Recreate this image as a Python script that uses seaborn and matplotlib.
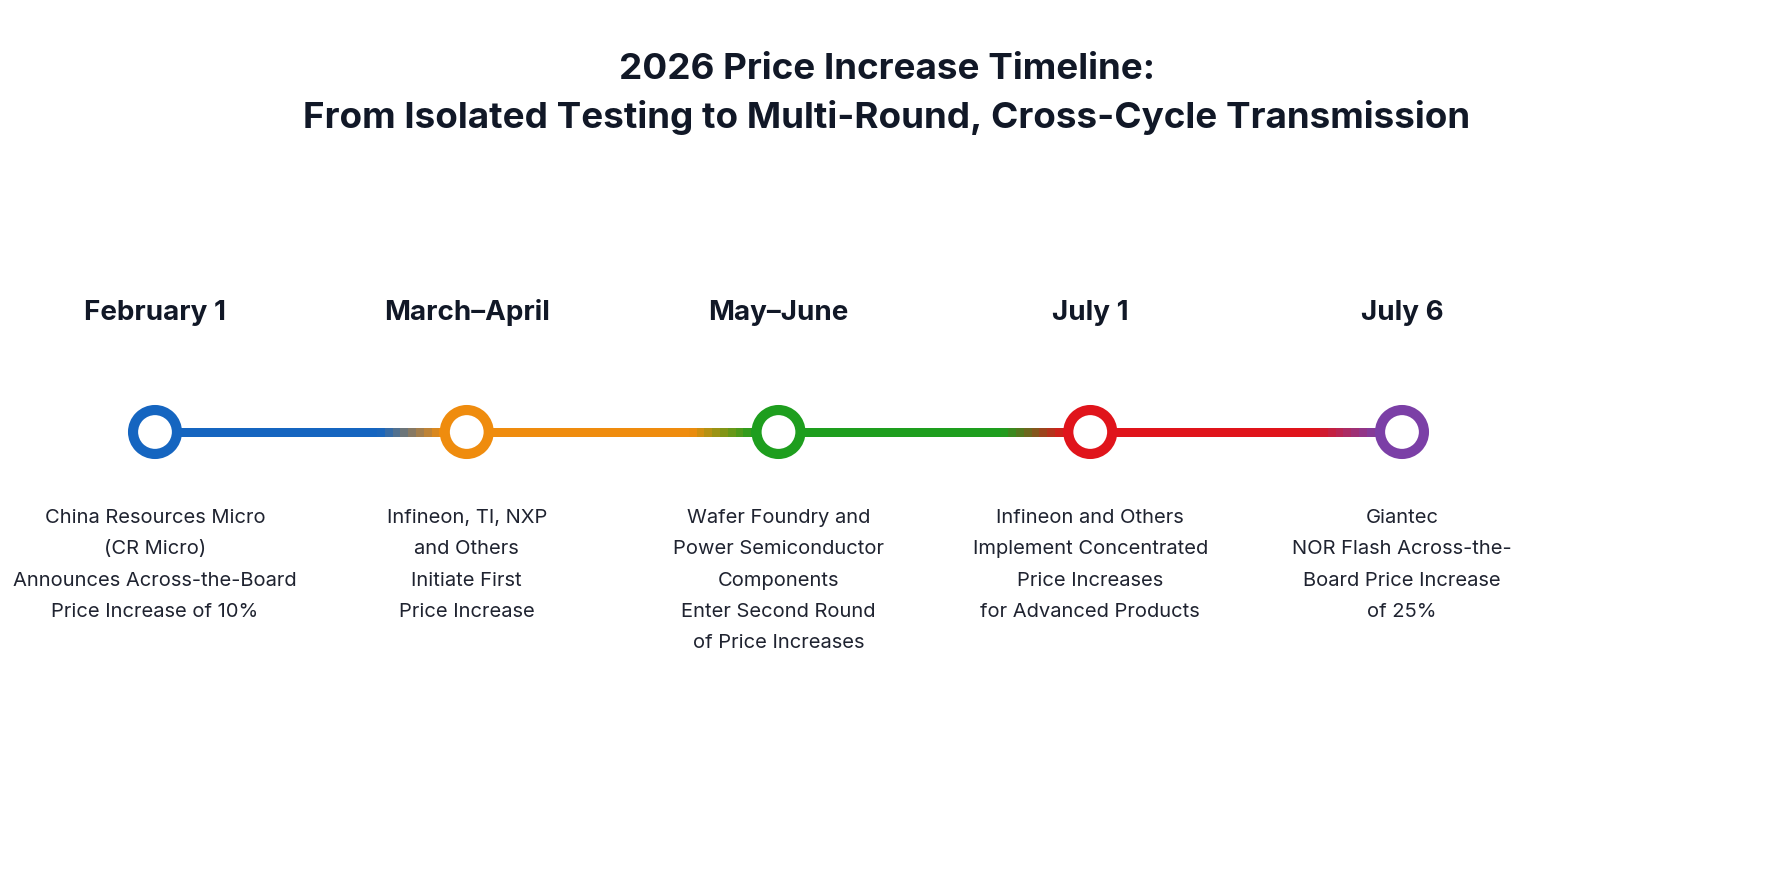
import numpy as np
import pandas as pd
import matplotlib
matplotlib.use("Agg")
import matplotlib.pyplot as plt
import seaborn as sns
from matplotlib.collections import LineCollection
from matplotlib.colors import to_rgb

dates = ["February 1", "March–April", "May–June", "July 1", "July 6"]
descriptions = [
    "China Resources Micro\n(CR Micro)\nAnnounces Across-the-Board\nPrice Increase of 10%",
    "Infineon, TI, NXP\nand Others\nInitiate First\nPrice Increase",
    "Wafer Foundry and\nPower Semiconductor\nComponents\nEnter Second Round\nof Price Increases",
    "Infineon and Others\nImplement Concentrated\nPrice Increases\nfor Advanced Products",
    "Giantec\nNOR Flash Across-the-\nBoard Price Increase\nof 25%",
]
colors = ["#1565C0", "#EF8C0E", "#1E9E1E", "#E0141B", "#7B3FA6"]
title = "2026 Price Increase Timeline:\nFrom Isolated Testing to Multi-Round, Cross-Cycle Transmission"

sns.set_theme(style="white")
plt.rcParams["font.family"] = ["Inter", "DejaVu Sans"]

df = pd.DataFrame({"pos": np.arange(len(dates)), "y": 0.0, "date": dates})

fig = plt.figure(figsize=(17.74, 8.87), dpi=100)
ax = fig.add_axes([0, 0, 1, 1])
unit = 311.75
ax.set_xlim(-155 / unit, (1774 - 155) / unit)
ax.set_ylim(887 - 433, -433)
ax.axis("off")

# gradient line
segs, cols = [], []
n = 40
for i in range(len(dates) - 1):
    xs = np.linspace(i, i + 1, n + 1)
    c0, c1 = np.array(to_rgb(colors[i])), np.array(to_rgb(colors[i + 1]))
    for k in range(n):
        t = (xs[k] - i)
        w = np.clip((t - 0.72) / 0.2, 0, 1)
        segs.append([(xs[k], 0), (xs[k + 1], 0)])
        cols.append(c0 * (1 - w) + c1 * w)
ax.add_collection(LineCollection(segs, colors=cols, linewidths=5.2, zorder=1,
                                 capstyle="projecting", antialiased=False))

sns.scatterplot(data=df, x="pos", y="y", hue="date", palette=colors, legend=False,
                s=1000, linewidth=0, ax=ax, zorder=2)
ax.collections[-1].set_facecolor("white")
ax.collections[-1].set_edgecolor(colors)
ax.collections[-1].set_linewidth(7.3)

for i, (d, t) in enumerate(zip(dates, descriptions)):
    ax.text(i, -120, d, ha="center", va="center", fontsize=20, fontweight="bold", color="#111827")
    ax.text(i, 76, t, ha="center", va="top", fontsize=14.5, color="#1f2330", linespacing=1.95)

fig.text(0.5, 0.894, title, ha="center", va="center", fontsize=26.5, fontweight="bold",
         color="#111827", linespacing=1.5)

fig.savefig("out.png", dpi=100, facecolor="white")
